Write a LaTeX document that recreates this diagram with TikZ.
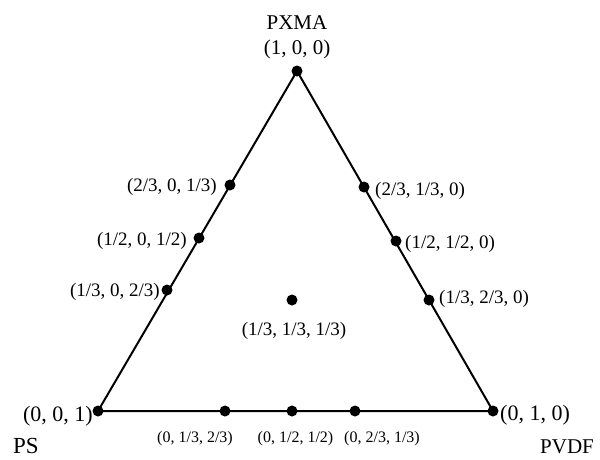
\documentclass[tikz,border=0pt]{standalone}
\usepackage{fontspec}
\setmainfont{Liberation Serif}
\begin{document}
\begin{tikzpicture}[x=1pt,y=-1pt,
  dot/.style={circle,fill=black,inner sep=0pt,minimum size=11pt},
  edgeline/.style={line width=2pt},
  big/.style={inner sep=0pt,font=\fontsize{21}{21}\selectfont},
  mid/.style={inner sep=0pt,font=\fontsize{19}{19}\selectfont},
  small/.style={inner sep=0pt,font=\fontsize{16}{16}\selectfont}]
\useasboundingbox (0,0) rectangle (600,459);
% vertices
\node[dot] (A) at (297,71) {};
\node[dot] (B) at (98,411) {};
\node[dot] (C) at (493,411) {};
\draw[edgeline] (A.center) -- (B.center) -- (C.center) -- cycle;
% edge points
\node[dot] (ab1) at (230,185) {};
\node[dot] (ab2) at (199,238) {};
\node[dot] (ab3) at (167,290) {};
\node[dot] (ac1) at (364,187) {};
\node[dot] (ac2) at (396,241) {};
\node[dot] (ac3) at (429,300) {};
\node[dot] (bc1) at (225,411) {};
\node[dot] (bc2) at (292,411) {};
\node[dot] (bc3) at (355,411) {};
\node[dot] (ctr) at (292,300) {};
% labels
\node[big,anchor=base] (pxma) at (297,29) {PXMA};
\node[big,anchor=base] (lA) at (297,54) {(1, 0, 0)};
\node[big,anchor=base east,font=\fontsize{22}{22}\selectfont] (lB) at (93,421) {(0, 0, 1)};
\node[big,anchor=base west,font=\fontsize{23}{23}\selectfont] (ps) at (13,453) {PS};
\node[big,anchor=base west,font=\fontsize{22}{22}\selectfont] (lC) at (500,420) {(0, 1, 0)};
\node[big,anchor=base west] (pvdf) at (540,453) {PVDF};
\node[mid,anchor=base east] (lab1) at (217,191) {(2/3, 0, 1/3)};
\node[mid,anchor=base east] (lab2) at (187,245) {(1/2, 0, 1/2)};
\node[mid,anchor=base east] (lab3) at (160,296) {(1/3, 0, 2/3)};
\node[mid,anchor=base west] (lac1) at (375,195) {(2/3, 1/3, 0)};
\node[mid,anchor=base west] (lac2) at (405,248) {(1/2, 1/2, 0)};
\node[mid,anchor=base west] (lac3) at (439,303) {(1/3, 2/3, 0)};
\node[mid,anchor=base] (lctr) at (294,335) {(1/3, 1/3, 1/3)};
\node[small,anchor=base] (lbc1) at (195,442) {(0, 1/3, 2/3)};
\node[small,anchor=base] (lbc2) at (295.5,442) {(0, 1/2, 1/2)};
\node[small,anchor=base] (lbc3) at (382,442) {(0, 2/3, 1/3)};
\end{tikzpicture}
\end{document}
